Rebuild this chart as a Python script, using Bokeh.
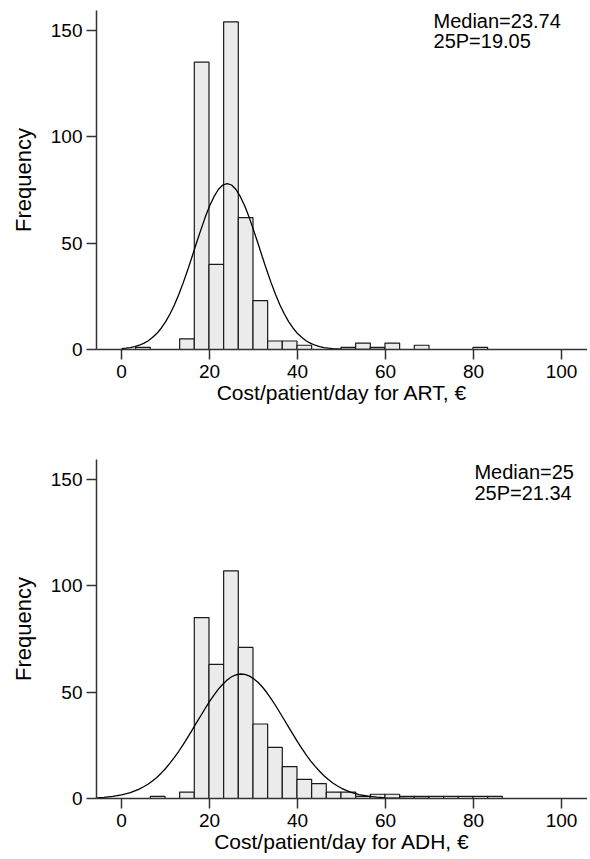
from bokeh.plotting import figure
from bokeh.layouts import column
from bokeh.models import Range1d, FixedTicker, Label
from bokeh.embed import file_html
from bokeh.resources import INLINE

# ---- data ----
bin_edges = [3.2, 6.53, 9.87, 13.2, 16.53, 19.87, 23.2, 26.53, 29.87, 33.2, 36.53,
             39.87, 43.2, 46.53, 49.87, 53.2, 56.53, 59.87, 63.2, 66.53, 69.87,
             73.2, 76.53, 79.87, 83.2, 86.53]
art_counts = [1, 0, 0, 5, 135, 40, 154, 62, 23, 4, 4, 2, 0, 0, 1, 3, 1, 3, 0, 2, 0, 0, 0, 1, 0]
adh_counts = [0, 1, 0, 3, 85, 63, 107, 71, 35, 24, 15, 9, 7, 3, 3, 1, 2, 2, 1, 1, 1, 1, 1, 1, 1]

art_curve_x = [0, 1, 2, 3, 4, 5, 6, 7, 8, 9, 10, 11, 12, 13, 14, 15, 16, 17, 18, 19, 20,
               21, 22, 23, 24, 25, 26, 27, 28, 29, 30, 31, 32, 33, 34, 35, 36, 37, 38,
               39, 40, 41, 42, 43, 44, 45, 46, 47, 48, 50, 55, 60]
art_curve_y = [0.4, 0.62, 0.9, 1.4, 2.0, 2.9, 4.0, 5.6, 7.5, 10.0, 13.0, 16.7, 20.9, 25.8,
               31.3, 37.2, 43.5, 49.9, 56.1, 62.1, 67.4, 71.8, 75.2, 77.3, 78.0, 77.3,
               75.2, 71.8, 67.4, 62.1, 56.1, 49.9, 43.5, 37.2, 31.3, 25.8, 20.9, 16.7,
               13.0, 10.0, 7.5, 5.6, 4.0, 2.9, 2.0, 1.4, 0.9, 0.62, 0.4, 0.16, 0.01, 0.0]

adh_curve_x = [-5.7, -4, -2, 0, 2, 4, 5, 6, 7, 8, 9, 10, 11, 12, 13, 14, 15, 16, 17, 18,
               19, 20, 21, 22, 23, 24, 25, 26, 27, 28, 29, 30, 31, 32, 33, 34, 35, 36,
               37, 38, 39, 40, 41, 42, 43, 44, 45, 46, 47, 48, 49, 50, 52, 54, 56, 58,
               60, 65, 70]
adh_curve_y = [0.32, 0.54, 0.97, 1.67, 2.76, 4.4, 5.5, 6.7, 8.2, 9.9, 11.9, 14.1, 16.6,
               19.3, 22.2, 25.3, 28.6, 32.0, 35.5, 38.9, 42.3, 45.6, 48.6, 51.4, 53.7,
               55.7, 57.2, 58.1, 58.5, 58.3, 57.6, 56.3, 54.6, 52.4, 49.8, 46.8, 43.7,
               40.3, 36.9, 33.4, 30.0, 26.6, 23.4, 20.4, 17.6, 15.1, 12.8, 10.7, 8.9,
               7.3, 6.0, 4.8, 3.04, 1.85, 1.08, 0.61, 0.33, 0.06, 0.01]

x_ticks = [0, 20, 40, 60, 80, 100]
y_ticks = [0, 50, 100, 150]
art_stats = ["Median=23.74", "25P=19.05"]
adh_stats = ["Median=25", "25P=21.34"]
art_title = "Cost/patient/day for ART, €"
adh_title = "Cost/patient/day for ADH, €"
y_title = "Frequency"

FONT = "Liberation Sans"


def make_panel(counts, cx, cy, stats, stats_x, stats_y, xtitle, border_top, border_bottom):
    p = figure(width=587, height=border_top + 339 + border_bottom,
               x_range=Range1d(-5.7, 105.9), y_range=Range1d(0, 159.3),
               output_backend="svg", toolbar_location=None,
               min_border_left=96, min_border_right=0, min_border_top=border_top,
               min_border_bottom=border_bottom)
    p.outline_line_color = None
    p.grid.visible = False
    p.background_fill_color = "white"

    left = [bin_edges[i] for i in range(len(counts)) if counts[i] > 0]
    right = [bin_edges[i + 1] for i in range(len(counts)) if counts[i] > 0]
    top = [c for c in counts if c > 0]
    p.quad(left=left, right=right, top=top, bottom=0,
           fill_color="#ebebeb", line_color="#1a1a1a", line_width=1.2)
    p.line(cx, cy, line_color="black", line_width=1.3)

    for ax in (p.xaxis[0], p.yaxis[0]):
        ax.axis_line_color = "#333333"
        ax.axis_line_width = 1.5
        ax.major_tick_line_color = "#333333"
        ax.major_tick_line_width = 1.5
        ax.major_tick_in = 0
        ax.major_tick_out = 10
        ax.minor_tick_line_color = None
        ax.major_label_text_font = FONT
        ax.major_label_text_font_size = "19px"
        ax.major_label_text_color = "black"
        ax.axis_label_text_font = FONT
        ax.axis_label_text_font_style = "normal"
        ax.axis_label_text_color = "black"

    p.xaxis.axis_label_text_font_size = "21px"
    p.yaxis.axis_label_text_font_size = "22px"
    p.xaxis.ticker = FixedTicker(ticks=x_ticks)
    p.yaxis.ticker = FixedTicker(ticks=y_ticks)
    p.xaxis.major_label_standoff = 5
    p.xaxis.axis_label_standoff = 0
    p.yaxis.major_label_standoff = 4
    p.yaxis.axis_label_standoff = 12
    p.xaxis.axis_label = xtitle
    p.yaxis.axis_label = y_title

    for s, yy in zip(stats, stats_y):
        p.add_layout(Label(x=stats_x, y=yy, text=s, text_font=FONT,
                           text_font_size="20px", text_color="black",
                           text_baseline="alphabetic", text_align="left"))
    return p


top_plot = make_panel(art_counts, art_curve_x, art_curve_y, art_stats, 70.9,
                      [154.3, 144.9], art_title, 10, 108)
bottom_plot = make_panel(adh_counts, adh_curve_x, adh_curve_y, adh_stats, 80.2,
                         [153.2, 143.4], adh_title, 2, 61)

layout = column(top_plot, bottom_plot, spacing=0)
open("out.html", "w").write(file_html(layout, INLINE))
